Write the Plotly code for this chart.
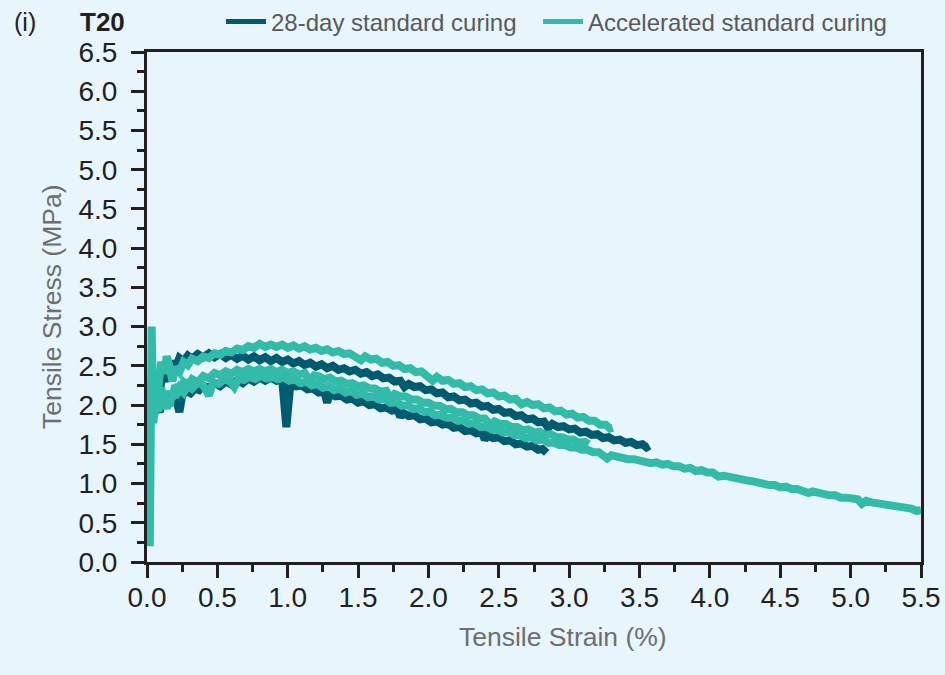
import plotly.graph_objects as go

# ---------------- data (strain %, stress MPa) ----------------
series_names = ["28-day standard curing", "Accelerated standard curing"]
x_ticks = [0.0, 0.5, 1.0, 1.5, 2.0, 2.5, 3.0, 3.5, 4.0, 4.5, 5.0, 5.5]
y_ticks = [0.0, 0.5, 1.0, 1.5, 2.0, 2.5, 3.0, 3.5, 4.0, 4.5, 5.0, 5.5, 6.0, 6.5]

std28_a = [(0.02,1.80),(0.03,1.96),(0.05,1.87),(0.07,2.01),(0.09,1.91),(0.11,2.06),(0.13,1.97),(0.15,2.10),(0.17,2.03),(0.19,2.13),(0.21,2.06),(0.23,1.91),(0.25,2.12),(0.28,2.18),(0.31,2.15),(0.34,2.21),(0.37,2.19),(0.40,2.25),(0.44,2.22),(0.48,2.28),(0.52,2.24),(0.56,2.30),(0.60,2.26),(0.64,2.32),(0.68,2.28),(0.72,2.34),(0.76,2.30),(0.80,2.35),(0.84,2.31),(0.88,2.35),(0.92,2.31),(0.96,2.34),(0.99,1.72),(1.02,2.29),(1.06,2.24),(1.10,2.25),(1.14,2.20),(1.18,2.21),(1.22,2.16),(1.26,2.17),(1.28,2.03),(1.30,2.15),(1.34,2.11),(1.38,2.12),(1.42,2.07),(1.46,2.08),(1.50,2.03),(1.54,2.05),(1.58,2.00),(1.62,2.01),(1.66,1.96),(1.70,1.97),(1.74,1.93),(1.78,1.94),(1.80,1.85),(1.82,1.90),(1.86,1.86),(1.90,1.87),(1.94,1.82),(1.98,1.83),(2.02,1.78),(2.06,1.79),(2.10,1.75),(2.14,1.76),(2.18,1.71),(2.22,1.72),(2.26,1.67),(2.30,1.68),(2.34,1.64),(2.38,1.65),(2.40,1.56),(2.42,1.61),(2.46,1.58),(2.50,1.59),(2.54,1.54),(2.58,1.55),(2.62,1.50),(2.66,1.51),(2.70,1.47),(2.74,1.48),(2.78,1.43),(2.81,1.44),(2.84,1.39)]

std28_b = [(0.02,1.90),(0.03,2.15),(0.05,2.05),(0.07,2.25),(0.09,2.18),(0.11,2.38),(0.13,2.30),(0.15,2.48),(0.17,2.42),(0.19,2.56),(0.21,2.50),(0.23,2.60),(0.26,2.56),(0.29,2.63),(0.32,2.59),(0.36,2.65),(0.40,2.61),(0.44,2.66),(0.48,2.61),(0.52,2.65),(0.56,2.60),(0.60,2.64),(0.64,2.59),(0.68,2.63),(0.72,2.58),(0.76,2.62),(0.80,2.57),(0.84,2.61),(0.88,2.56),(0.92,2.60),(0.96,2.55),(1.00,2.58),(1.04,2.53),(1.08,2.56),(1.12,2.51),(1.16,2.54),(1.20,2.49),(1.24,2.52),(1.28,2.47),(1.32,2.50),(1.36,2.45),(1.40,2.47),(1.44,2.43),(1.48,2.45),(1.52,2.40),(1.56,2.42),(1.60,2.37),(1.64,2.39),(1.68,2.34),(1.72,2.35),(1.76,2.30),(1.80,2.31),(1.83,2.23),(1.86,2.27),(1.90,2.23),(1.94,2.24),(1.98,2.19),(2.02,2.20),(2.06,2.15),(2.10,2.16),(2.14,2.10),(2.18,2.11),(2.22,2.06),(2.26,2.07),(2.30,2.02),(2.34,2.03),(2.38,1.98),(2.42,1.99),(2.46,1.94),(2.50,1.95),(2.54,1.90),(2.58,1.91),(2.62,1.86),(2.66,1.87),(2.70,1.82),(2.74,1.83),(2.78,1.78),(2.82,1.79),(2.85,1.71),(2.88,1.76),(2.92,1.72),(2.96,1.73),(3.00,1.69),(3.04,1.70),(3.08,1.65),(3.12,1.66),(3.16,1.62),(3.20,1.63),(3.24,1.58),(3.28,1.59),(3.32,1.55),(3.36,1.56),(3.40,1.52),(3.44,1.53),(3.48,1.49),(3.52,1.50),(3.55,1.46),(3.57,1.48)]

acc_a = [(0.02,1.95),(0.03,2.35),(0.045,2.15),(0.06,2.45),(0.08,2.20),(0.10,2.55),(0.12,2.40),(0.14,2.62),(0.16,2.50),(0.18,2.30),(0.20,2.48),(0.23,2.42),(0.26,2.55),(0.29,2.51),(0.32,2.59),(0.36,2.56),(0.40,2.62),(0.44,2.60),(0.48,2.66),(0.52,2.64),(0.56,2.69),(0.60,2.67),(0.64,2.72),(0.68,2.70),(0.72,2.75),(0.76,2.73),(0.80,2.78),(0.84,2.74),(0.88,2.77),(0.92,2.74),(0.96,2.77),(1.00,2.73),(1.04,2.76),(1.08,2.72),(1.12,2.75),(1.16,2.71),(1.20,2.73),(1.24,2.69),(1.28,2.71),(1.32,2.67),(1.36,2.69),(1.40,2.65),(1.44,2.66),(1.48,2.62),(1.52,2.57),(1.55,2.62),(1.59,2.58),(1.63,2.59),(1.67,2.54),(1.71,2.55),(1.75,2.50),(1.79,2.51),(1.83,2.46),(1.87,2.47),(1.91,2.42),(1.95,2.43),(1.99,2.38),(2.03,2.31),(2.06,2.36),(2.10,2.31),(2.14,2.32),(2.18,2.27),(2.22,2.28),(2.26,2.23),(2.30,2.24),(2.34,2.19),(2.38,2.20),(2.42,2.15),(2.46,2.16),(2.50,2.11),(2.54,2.12),(2.58,2.07),(2.62,2.08),(2.66,2.01),(2.70,2.04),(2.74,2.00),(2.78,2.01),(2.82,1.96),(2.86,1.97),(2.90,1.92),(2.94,1.93),(2.98,1.88),(3.02,1.89),(3.06,1.84),(3.10,1.85),(3.14,1.80),(3.18,1.80),(3.22,1.75),(3.26,1.75),(3.29,1.70),(3.31,1.71)]

acc_b = [(0.02,1.85),(0.03,2.05),(0.045,1.95),(0.06,2.15),(0.08,2.02),(0.10,2.22),(0.12,2.10),(0.14,1.95),(0.16,2.18),(0.18,2.08),(0.20,2.25),(0.23,2.19),(0.26,2.29),(0.29,2.24),(0.32,2.33),(0.36,2.29),(0.40,2.37),(0.44,2.34),(0.48,2.41),(0.52,2.38),(0.56,2.43),(0.60,2.40),(0.64,2.45),(0.68,2.42),(0.72,2.46),(0.76,2.43),(0.80,2.46),(0.84,2.43),(0.88,2.46),(0.92,2.42),(0.96,2.45),(1.00,2.41),(1.04,2.43),(1.08,2.39),(1.12,2.41),(1.16,2.31),(1.19,2.38),(1.22,2.37),(1.26,2.33),(1.30,2.35),(1.34,2.30),(1.38,2.31),(1.42,2.27),(1.46,2.28),(1.50,2.24),(1.54,2.25),(1.58,2.21),(1.62,2.21),(1.66,2.17),(1.70,2.18),(1.73,2.08),(1.76,2.14),(1.80,2.11),(1.84,2.11),(1.88,2.07),(1.92,2.07),(1.96,2.03),(2.00,2.03),(2.04,1.99),(2.08,1.99),(2.12,1.95),(2.16,1.95),(2.20,1.91),(2.24,1.91),(2.28,1.87),(2.32,1.87),(2.36,1.83),(2.40,1.83),(2.44,1.74),(2.47,1.79),(2.51,1.76),(2.55,1.76),(2.59,1.72),(2.63,1.72),(2.67,1.68),(2.71,1.69),(2.75,1.65),(2.79,1.66),(2.83,1.62),(2.87,1.63),(2.91,1.59),(2.95,1.59),(2.99,1.56),(3.03,1.56),(3.07,1.52),(3.11,1.53),(3.14,1.50)]

acc_c = [(0.02,0.20),(0.022,1.50),(0.028,2.40),(0.033,3.00),(0.038,2.50),(0.045,1.77),(0.06,2.05),(0.08,1.92),(0.10,2.12),(0.12,2.00),(0.14,2.15),(0.16,1.98),(0.18,2.18),(0.20,2.10),(0.23,2.22),(0.26,2.16),(0.29,2.26),(0.32,2.21),(0.36,2.29),(0.40,2.25),(0.44,2.12),(0.47,2.29),(0.51,2.27),(0.55,2.33),(0.59,2.30),(0.62,2.23),(0.65,2.34),(0.69,2.32),(0.73,2.36),(0.77,2.33),(0.81,2.37),(0.85,2.34),(0.89,2.36),(0.93,2.33),(0.97,2.35),(1.01,2.31),(1.05,2.33),(1.09,2.28),(1.13,2.30),(1.17,2.25),(1.21,2.27),(1.25,2.22),(1.29,2.24),(1.33,2.19),(1.37,2.21),(1.41,2.16),(1.45,2.18),(1.49,2.13),(1.53,2.15),(1.57,2.10),(1.61,2.11),(1.65,2.07),(1.69,2.08),(1.73,2.03),(1.77,2.04),(1.81,1.99),(1.85,2.00),(1.89,1.95),(1.93,1.96),(1.97,1.91),(2.01,1.92),(2.05,1.87),(2.09,1.88),(2.13,1.84),(2.17,1.84),(2.21,1.80),(2.25,1.81),(2.29,1.76),(2.33,1.77),(2.37,1.72),(2.41,1.73),(2.45,1.69),(2.49,1.69),(2.53,1.65),(2.57,1.66),(2.61,1.62),(2.65,1.62),(2.69,1.58),(2.73,1.59),(2.77,1.55),(2.81,1.56),(2.85,1.52),(2.89,1.52),(2.93,1.49),(2.97,1.49),(3.01,1.46),(3.05,1.46),(3.09,1.43),(3.13,1.43),(3.17,1.40),(3.21,1.40),(3.25,1.36),(3.27,1.32),(3.30,1.36),(3.34,1.34),(3.38,1.34),(3.42,1.31),(3.46,1.31),(3.50,1.29),(3.54,1.29),(3.58,1.26),(3.62,1.27),(3.66,1.24),(3.70,1.25),(3.74,1.22),(3.78,1.22),(3.82,1.19),(3.86,1.20),(3.90,1.16),(3.94,1.17),(3.98,1.14),(4.02,1.14),(4.06,1.09),(4.10,1.10),(4.14,1.08),(4.18,1.07),(4.22,1.05),(4.26,1.04),(4.30,1.03),(4.34,1.01),(4.38,1.01),(4.42,0.98),(4.46,0.98),(4.50,0.95),(4.54,0.96),(4.58,0.93),(4.62,0.93),(4.66,0.90),(4.70,0.88),(4.73,0.90),(4.77,0.88),(4.81,0.87),(4.85,0.85),(4.89,0.85),(4.93,0.82),(4.97,0.82),(5.01,0.80),(5.05,0.80),(5.08,0.74),(5.11,0.78),(5.15,0.76),(5.19,0.75),(5.23,0.73),(5.27,0.73),(5.31,0.71),(5.35,0.70),(5.39,0.68),(5.43,0.68),(5.47,0.65),(5.50,0.66)]

std28_curves = [std28_a, std28_b]
acc_curves = [acc_a, acc_b, acc_c]

# ---------------- style ----------------
DARK = "#005A70"
TURQ = "#33BBAA"
BG = "#E8F5FD"
AXC = "#231F20"
FONT = "Liberation Sans, Arial, sans-serif"
LW = 8

fig = go.Figure()
for pts in std28_curves:
    fig.add_trace(go.Scatter(x=[p[0] for p in pts], y=[p[1] for p in pts], mode="lines",
                             line=dict(color=DARK, width=LW), showlegend=False, hoverinfo="skip"))
for pts in acc_curves:
    fig.add_trace(go.Scatter(x=[p[0] for p in pts], y=[p[1] for p in pts], mode="lines",
                             line=dict(color=TURQ, width=LW), showlegend=False, hoverinfo="skip"))
# legend entries (one legend box per entry so each can be placed)
for name, col, lg in zip(series_names, [DARK, TURQ], ["legend", "legend2"]):
    fig.add_trace(go.Scatter(x=[None], y=[None], mode="lines", name=name, legend=lg,
                             line=dict(color=col, width=5)))

axis_common = dict(
    showgrid=False, zeroline=False, showline=True, linewidth=3, linecolor=AXC, mirror=True,
    ticks="outside", ticklen=13, tickwidth=2.5, tickcolor=AXC,
    tickfont=dict(family=FONT, size=28, color=AXC),
    minor=dict(ticks="outside", ticklen=7, tickwidth=2.5, tickcolor=AXC),
)

legend_common = dict(orientation="h", xref="container", yref="container", y=1-22/675,
                     xanchor="left", yanchor="middle", bgcolor="rgba(0,0,0,0)",
                     font=dict(family=FONT, size=24, color="#58595B"), itemwidth=40)

fig.update_layout(
    width=945, height=675,
    margin=dict(l=147, r=24, t=52, b=113, autoexpand=False),
    paper_bgcolor=BG, plot_bgcolor=BG,
    font=dict(family=FONT),
    xaxis=dict(range=[0, 5.5], tickvals=x_ticks, ticktext=[f"{v:.1f}" for v in x_ticks],
               minor_dtick=0.25, ticklabelstandoff=-5, **axis_common),
    yaxis=dict(range=[0, 6.5], tickvals=y_ticks, ticktext=[f"{v:.1f}" for v in y_ticks],
               minor_dtick=0.25, ticklabelstandoff=8, **axis_common),
    legend=dict(x=221/945, **legend_common),
    legend2=dict(x=538/945, **legend_common),
    showlegend=True,
)

fig.add_annotation(text="Tensile Strain (%)", xref="paper", yref="paper", x=(563-147)/774, y=-(637-562)/510,
                   showarrow=False, xanchor="center", yanchor="middle",
                   font=dict(family=FONT, size=26.5, color="#6D6E71"))
fig.add_annotation(text="Tensile Stress (MPa)", xref="paper", yref="paper", x=-(147-52)/774, y=0.5,
                   showarrow=False, xanchor="center", yanchor="middle", textangle=-90,
                   font=dict(family=FONT, size=26.5, color="#6D6E71"))
fig.add_annotation(text="(i)", xref="paper", yref="paper", x=-(147-25)/774, y=1+(52-22)/510,
                   showarrow=False, xanchor="center", yanchor="middle",
                   font=dict(family=FONT, size=25, color=AXC))
fig.add_annotation(text="<b>T20</b>", xref="paper", yref="paper", x=-(147-102)/774, y=1+(52-22)/510,
                   showarrow=False, xanchor="center", yanchor="middle",
                   font=dict(family=FONT, size=26, color=AXC))

fig.write_html("out.html")
